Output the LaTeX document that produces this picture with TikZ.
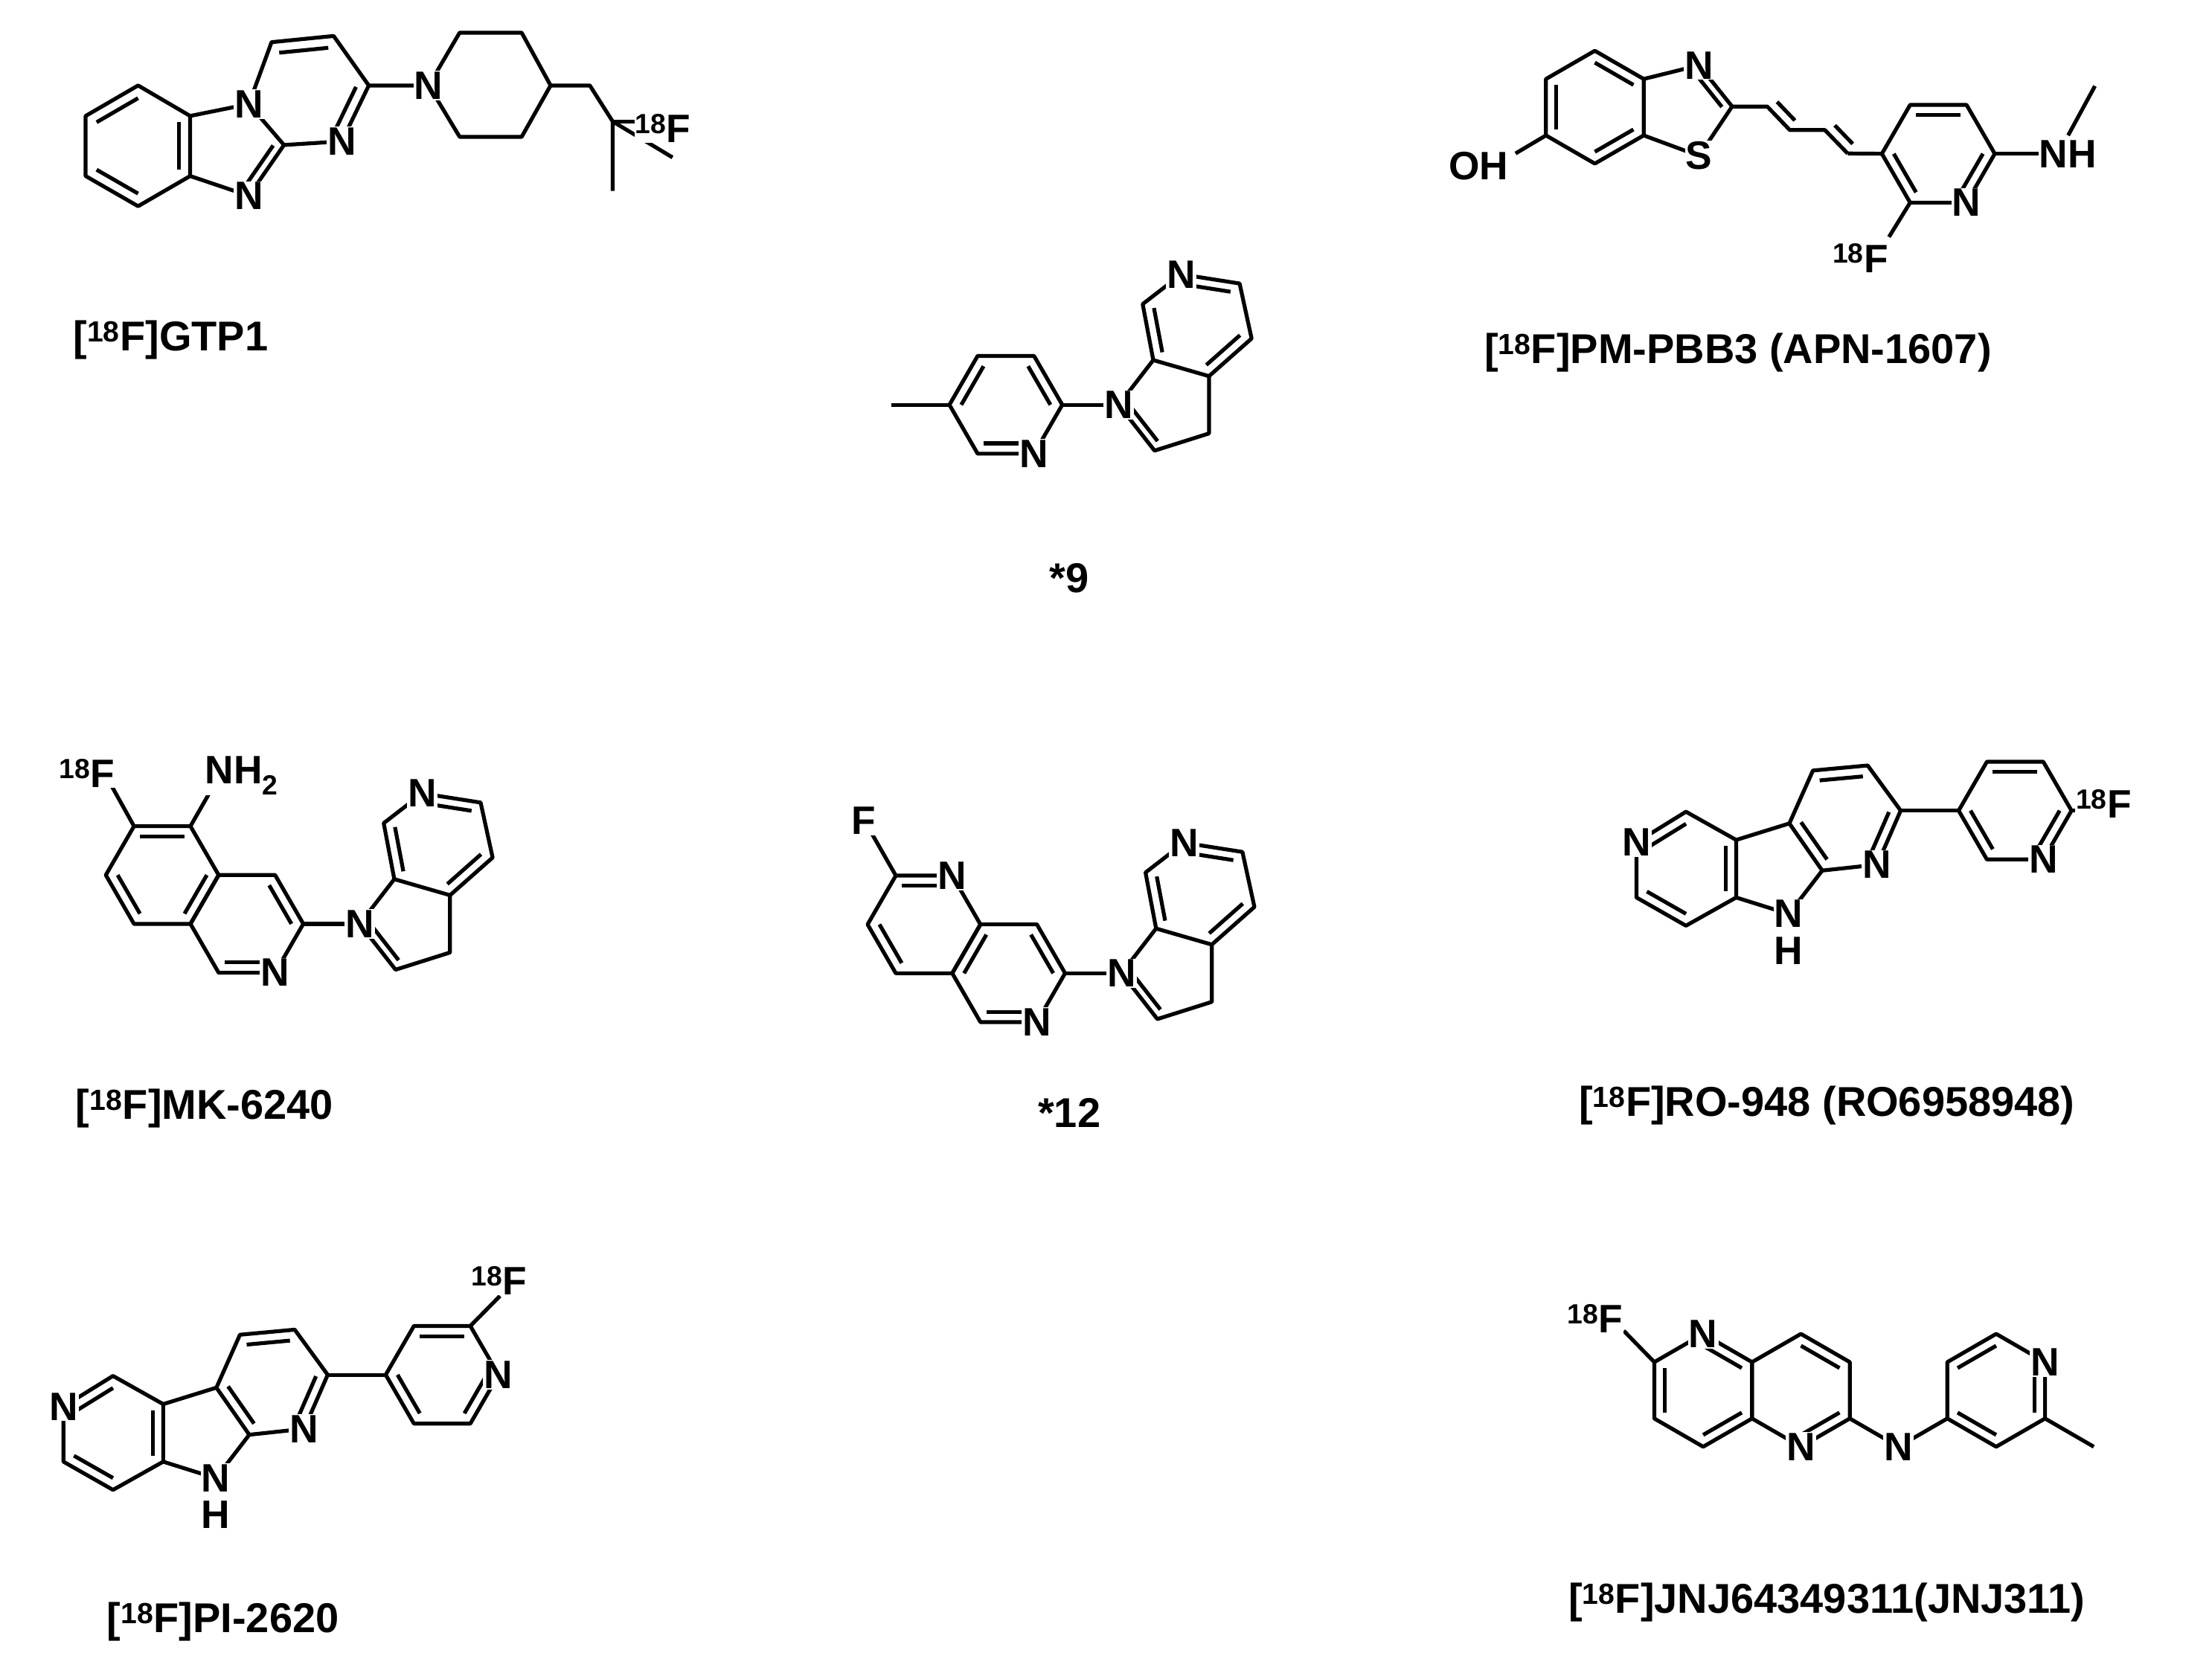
\documentclass[tikz,border=0pt]{standalone}
\usepackage{fontspec}
\setmainfont{Liberation Sans}
\usetikzlibrary{calc}
\tikzset{
 bnd/.style={line width=3.9pt,line join=round},
 atm/.style={font=\fontsize{40}{40}\selectfont\bfseries,fill=white,inner sep=1pt},
 lbl/.style={font=\fontsize{42}{42}\selectfont\bfseries,inner sep=0pt}
}
\newcommand\dbl[3]{\draw[bnd] ($(#1)!.21!(#3)$) -- ($(#2)!.21!(#3)$);}
\newcommand\flathex[3]{%
 \coordinate (#1c) at (#2,#3);
 \coordinate (#1l) at ({#2-40},#3);
 \coordinate (#1ul) at ({#2-20},{#3-34.64});
 \coordinate (#1ur) at ({#2+20},{#3-34.64});
 \coordinate (#1r) at ({#2+40},#3);
 \coordinate (#1lr) at ({#2+20},{#3+34.64});
 \coordinate (#1ll) at ({#2-20},{#3+34.64});
 \draw[bnd] (#1l)--(#1ul)--(#1ur)--(#1r)--(#1lr)--(#1ll)--cycle;}
\newcommand\phex[3]{%
 \coordinate (#1c) at (#2,#3);
 \coordinate (#1t) at (#2,{#3-40});
 \coordinate (#1ur) at ({#2+34.64},{#3-20});
 \coordinate (#1lr) at ({#2+34.64},{#3+20});
 \coordinate (#1b) at (#2,{#3+40});
 \coordinate (#1ll) at ({#2-34.64},{#3+20});
 \coordinate (#1ul) at ({#2-34.64},{#3-20});
 \draw[bnd] (#1t)--(#1ur)--(#1lr)--(#1b)--(#1ll)--(#1ul)--cycle;}
% 18F label: F letter centred at (#2,#3)
\newcommand\Flab[3]{\node[atm,anchor=east,inner sep=0.5pt] (#1) at ({#2+8},#3) {\textsuperscript{18}F};}
% 3H-pyrrolo[2,3-c]pyridine, N1 at (#2,#3)
\newcommand\azind[3]{%
 \begin{scope}[shift={(#2,#3)}]
 \coordinate (#1n1) at (0,0); \coordinate (#1c7a) at (24.5,-31.7);
 \coordinate (#1c3a) at (64,-20.3); \coordinate (#1c3) at (64,20.3);
 \coordinate (#1c2) at (25.4,32.5); \coordinate (#1c7) at (17,-71.4);
 \coordinate (#1n6) at (44.3,-92.5); \coordinate (#1c5) at (85.7,-86);
 \coordinate (#1c4) at (94.2,-47); \coordinate (#1hc) at (55,-58.2);
 \coordinate (#1pc) at (35.6,0.2);
 \end{scope}
 \draw[bnd] (#1n1)--(#1c7a)--(#1c3a)--(#1c3)--(#1c2)--cycle;
 \draw[bnd] (#1c7a)--(#1c7)--(#1n6)--(#1c5)--(#1c4)--(#1c3a);
 \dbl{#1c7}{#1c7a}{#1hc}\dbl{#1n6}{#1c5}{#1hc}\dbl{#1c4}{#1c3a}{#1hc}\dbl{#1n1}{#1c2}{#1pc}
 \node[atm] (#1N1) at (#1n1) {N}; \node[atm] (#1N6) at (#1n6) {N};}
% pyrido-pyrrolo-pyridine + pyridyl ring, origin at NH
\newcommand\carb[3]{%
 \begin{scope}[shift={(#2,#3)}]
 \coordinate (#1n5) at (-108,-50.8); \coordinate (#1ca) at (-72.9,-72.5);
 \coordinate (#1cb) at (-37.3,-52.5); \coordinate (#1cc) at (-37.3,-11.7);
 \coordinate (#1cd) at (-72.9,8.3); \coordinate (#1ce) at (-108,-11.7);
 \coordinate (#1p1) at (0.4,-64.2); \coordinate (#1p2) at (23.7,-30.8);
 \coordinate (#1nh) at (0,0); \coordinate (#1h) at (0,26);
 \coordinate (#1m1) at (17.1,-101.7); \coordinate (#1m2) at (55.9,-105.3);
 \coordinate (#1m3) at (79.3,-73.3); \coordinate (#1mn) at (62.6,-35);
 \coordinate (#1lc) at (-72.7,-31.8); \coordinate (#1mc) at (39.8,-68.4);
 \coordinate (#1r1) at (120.4,-73.3); \coordinate (#1r2) at (140.4,-107.9);
 \coordinate (#1r3) at (180.4,-107.9); \coordinate (#1r4) at (200.4,-73.3);
 \coordinate (#1r5) at (180.4,-38.7); \coordinate (#1r6) at (140.4,-38.7);
 \coordinate (#1rc) at (160.4,-73.3);
 \end{scope}
 \draw[bnd] (#1n5)--(#1ca)--(#1cb)--(#1cc)--(#1cd)--(#1ce)--cycle;
 \draw[bnd] (#1cb)--(#1p1)--(#1p2)--(#1nh)--(#1cc);
 \draw[bnd] (#1p1)--(#1m1)--(#1m2)--(#1m3)--(#1mn)--(#1p2);
 \draw[bnd] (#1m3)--(#1r1);
 \draw[bnd] (#1r1)--(#1r2)--(#1r3)--(#1r4)--(#1r5)--(#1r6)--cycle;
 \dbl{#1n5}{#1ca}{#1lc}\dbl{#1cb}{#1cc}{#1lc}\dbl{#1cd}{#1ce}{#1lc}
 \dbl{#1p1}{#1p2}{#1mc}\dbl{#1m1}{#1m2}{#1mc}\dbl{#1m3}{#1mn}{#1mc}
 \dbl{#1r2}{#1r3}{#1rc}\dbl{#1r1}{#1r6}{#1rc}\dbl{#1r4}{#1r5}{#1rc}
 \node[atm] (#1N5) at (#1n5) {N}; \node[atm] (#1NH) at (#1nh) {N};
 \node[atm] (#1H) at (#1h) {H}; \node[atm] (#1MN) at (#1mn) {N};}
\begin{document}
\begin{tikzpicture}[x=0.05cm,y=-0.05cm]
\useasboundingbox (0,0) rectangle (1568,1188);
%================ GTP1
\coordinate (g1) at (97.9,60.6); \coordinate (g2) at (134.8,82.2);
\coordinate (g3) at (134.8,124.8); \coordinate (g4) at (97.9,146.2);
\coordinate (g5) at (60.7,124.8); \coordinate (g6) at (60.7,82.2);
\coordinate (gc) at (97.8,103.5);
\coordinate (gN1) at (176.4,73.8); \coordinate (gC2) at (201.3,102.8);
\coordinate (gN3) at (176.4,138.8); \coordinate (gic) at (164.7,104.5);
\coordinate (gp1) at (192.5,29.9); \coordinate (gp2) at (236.5,25.5);
\coordinate (gp3) at (261.4,60.6); \coordinate (gp4) at (242.3,100.2);
\coordinate (gpc) at (218.4,65.5);
\coordinate (pN) at (303.9,60.6); \coordinate (pp2) at (325.8,23.2);
\coordinate (pp3) at (369.8,23.2); \coordinate (pp4) at (390.3,60.6);
\coordinate (pp5) at (369.8,97); \coordinate (pp6) at (325.8,97);
\coordinate (gch) at (418.1,60.6); \coordinate (gq) at (434.3,86.1);
\coordinate (gme1) at (434.3,135.3); \coordinate (gme2) at (476.7,111.6);
\coordinate (gfb) at (450,86.1);
\draw[bnd] (g1)--(g2)--(g3)--(g4)--(g5)--(g6)--cycle;
\draw[bnd] (g2)--(gN1)--(gC2)--(gN3)--(g3);
\draw[bnd] (gN1)--(gp1)--(gp2)--(gp3)--(gp4)--(gC2);
\draw[bnd] (gp3)--(pN)--(pp2)--(pp3)--(pp4)--(pp5)--(pp6)--(pN);
\draw[bnd] (pp4)--(gch)--(gq)--(gme1); \draw[bnd] (gq)--(gme2); \draw[bnd] (gq)--(gfb);
\dbl{g6}{g1}{gc}\dbl{g5}{g4}{gc}\dbl{g2}{g3}{gc}
\dbl{gC2}{gN3}{gic}\dbl{gp1}{gp2}{gpc}\dbl{gp3}{gp4}{gpc}
\node[atm] (gNa) at (gN1) {N}; \node[atm] (gNb) at (gN3) {N};
\node[atm] (gNc) at (gp4) {N}; \node[atm] (gNd) at (pN) {N};
\Flab{gF}{482}{91}
\node[lbl] (t1) at (121,241) {[\textsuperscript{18}F]GTP1};
%================ *9
\flathex{na}{713}{287}
\draw[bnd] (nal)--++(-41,0) coordinate (name);
\draw[bnd] (nar)--(793,287) coordinate (naN);
\dbl{nal}{naul}{nac}\dbl{naur}{nar}{nac}\dbl{nall}{nalr}{nac}
\node[atm] (naNl) at (nalr) {N};
\azind{a9}{793}{287}
\node[lbl] (t2) at (758,410) {*9};
%================ PM-PBB3
\phex{bz}{1130.5}{76}
\coordinate (tN) at (1204.4,46.3); \coordinate (tC) at (1227.8,75.5);
\coordinate (tS) at (1204.4,110.5); \coordinate (tc) at (1193.4,76.9);
\coordinate (oh) at (1074.3,108.8);
\coordinate (e1) at (1252.7,75.5); \coordinate (e2) at (1268.7,92.2);
\coordinate (e3) at (1293.6,92.2); \coordinate (e4) at (1309.7,108.8);
\coordinate (f1) at (1285.9,59.7); \coordinate (f2) at (1326.9,76.3);
\draw[bnd] (bzur)--(tN)--(tC)--(tS)--(bzlr);
\draw[bnd] (bzll)--(oh);
\draw[bnd] (tC)--(e1)--(e2)--(e3)--(e4);
\dbl{bzt}{bzur}{bzc}\dbl{bzul}{bzll}{bzc}\dbl{bzlr}{bzb}{bzc}\dbl{tN}{tC}{tc}
\dbl{e1}{e2}{f1}\dbl{e3}{e4}{f2}
\flathex{py}{1374}{109}
\draw[bnd] (e4)--(pyl);
\dbl{pyul}{pyur}{pyc}\dbl{pyl}{pyll}{pyc}\dbl{pyr}{pylr}{pyc}
\draw[bnd] (pyll)--(1339,168) coordinate (pyfb);
\draw[bnd] (pyr)--(1446,109) coordinate (pynh);
\draw[bnd] (1466,96)--(1485,61) coordinate (pyme);
\node[atm] (tNl) at (tN) {N}; \node[atm] (tSl) at (tS) {S};
\node[atm] (ohl) at (1048,117.5) {OH};
\node[atm] (pyNl) at (pylr) {N};
\node[atm,anchor=west,inner sep=0.5pt] (nhl) at (1445,109) {NH};
\Flab{pyF}{1331}{183}
\node[lbl] (t3) at (1232,250) {[\textsuperscript{18}F]PM-PBB3 (APN-1607)};
%================ MK-6240
\flathex{ma}{115}{620.4}
\flathex{mb}{175}{655}
\draw[bnd] (mbr)--(255,655);
\dbl{maul}{maur}{mac}\dbl{mal}{mall}{mac}\dbl{mar}{malr}{mac}
\dbl{mbur}{mbr}{mbc}\dbl{mbll}{mblr}{mbc}
\draw[bnd] (maul)--(79,557) coordinate (mafb);
\draw[bnd] (maur)--(148,563) coordinate (manh);
\node[atm] (mbNl) at (mblr) {N};
\node[atm,anchor=west,inner sep=0.5pt] (mnh2) at (145,550) {NH\textsubscript{2}};
\Flab{maF}{74}{548}
\azind{mk}{255}{655}
\node[lbl] (t4) at (145,786) {[\textsuperscript{18}F]MK-6240};
%================ *12
\flathex{ta}{655}{655.4}
\flathex{tb}{715}{690}
\draw[bnd] (tbr)--(795,690);
\dbl{taul}{taur}{tac}\dbl{tal}{tall}{tac}\dbl{tar}{talr}{tbc}
\dbl{tbur}{tbr}{tbc}\dbl{tbll}{tblr}{tbc}
\draw[bnd] (taul)--(618,591) coordinate (tafb);
\node[atm] (taNl) at (taur) {N}; \node[atm] (tbNl) at (tblr) {N};
\node[atm] (taF) at (612,582) {F};
\azind{tw}{795}{690}
\node[lbl] (t5) at (758,789) {*12};
%================ RO-948
\carb{ro}{1268}{648}
\draw[bnd] (ror4)--++(8,0) coordinate (rofb);
\node[atm] (roN) at (ror5) {N};
\node[atm,anchor=west,inner sep=0.5pt] (roF) at (1471,570) {\textsuperscript{18}F};
\node[lbl] (t6) at (1295,784) {[\textsuperscript{18}F]RO-948 (RO6958948)};
%================ PI-2620
\carb{pi}{153}{1048}
\draw[bnd] (pir3)--(354.4,918.8) coordinate (pifb);
\node[atm] (piN) at (pir4) {N};
\Flab{piF}{366}{908}
\node[lbl] (t7) at (158,1150) {[\textsuperscript{18}F]PI-2620};
%================ JNJ
\phex{ja}{1207.3}{985.7}
\phex{jb}{1276.6}{985.7}
\phex{jc}{1415}{985.7}
\coordinate (jn) at (1345.8,1025.7);
\draw[bnd] (jblr)--(jn)--(jcll);
\draw[bnd] (jclr)--(1484.2,1025.7) coordinate (jme);
\draw[bnd] (jaul)--(1151,943.5) coordinate (jfb);
\dbl{jaul}{jall}{jac}\dbl{jat}{jaur}{jac}\dbl{jalr}{jab}{jac}
\dbl{jbt}{jbur}{jbc}\dbl{jblr}{jbb}{jbc}
\dbl{jcul}{jct}{jcc}\dbl{jcur}{jclr}{jcc}\dbl{jcll}{jcb}{jcc}
\node[atm] (jaN) at (jat) {N}; \node[atm] (jbN) at (jbb) {N};
\node[atm] (jnN) at (jn) {N}; \node[atm] (jcN) at (jcur) {N};
\Flab{jF}{1143}{935}
\node[lbl] (t8) at (1295,1136) {[\textsuperscript{18}F]JNJ64349311(JNJ311)};
\end{tikzpicture}
\end{document}
